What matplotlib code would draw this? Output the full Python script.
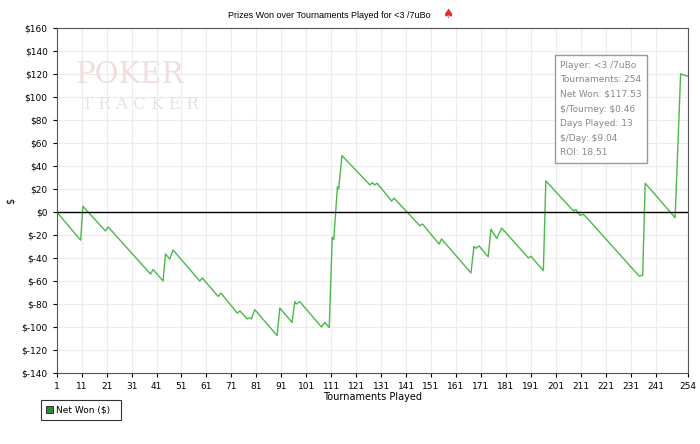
import matplotlib.pyplot as plt
from matplotlib.patches import Rectangle

# vertices of the net won curve (tournament, $)
tourney = [1, 10.6, 11.5, 20.5, 21.6, 38.6, 39.6, 43.6, 44.6, 46.3, 47.6, 58.3, 59.4, 65.7, 66.8,
           73.4, 74.4, 77.3, 78.4, 79, 80.4, 89.3, 90.4, 95.3, 96.4, 97, 98.4, 107.1, 108.4, 110.2,
           111.4, 112, 113.5, 114, 115.3, 126.5, 127.5, 128.5, 129.4, 135.2, 136.2, 146.5, 147.6,
           154.2, 155.2, 167, 168.2, 169, 170.2, 173.9, 175, 177.3, 179.3, 190, 191, 196, 197,
           208, 209, 210.7, 212, 213.4, 234.5, 235.8, 236.8, 248.8, 251, 252.5, 254]
net_won = [0, -24.5, 5, -16.5, -13, -54, -50, -60, -36.5, -41, -33, -60, -57.5, -73.5, -70.5,
           -88, -86, -93, -92, -93, -85, -107.5, -83.5, -96, -78, -80, -78, -100, -96, -100.5,
           -22, -24, 22, 20, 49, 23.5, 25.5, 23.5, 25, 9.5, 12, -12, -10.5,
           -28, -23.5, -53, -30, -31.5, -29.5, -39, -15, -23, -14, -40, -38.5, -51, 27,
           1, 2, -3, -2, -5, -56, -55, 25, -5, 120, 119, 118]

xticks = [1, 11, 21, 31, 41, 51, 61, 71, 81, 91, 101, 111, 121, 131, 141, 151, 161, 171, 181,
          191, 201, 211, 221, 231, 241, 254]
yticks = list(range(-140, 161, 20))
info = ["Player: <3 /7uBo", "Tournaments: 254", "Net Won: $117.53", "$/Tourney: $0.46",
        "Days Played: 13", "$/Day: $9.04", "ROI: 18.51"]

fig = plt.figure(figsize=(7, 4.44), dpi=100)
ax = fig.add_axes([0.081, 0.16, 0.902, 0.777])

ax.plot(tourney, net_won, color='#4cb84c', lw=1)
ax.axhline(0, color='black', lw=1)
ax.set_xlim(1, 254)
ax.set_ylim(-140, 160)
ax.set_xticks(xticks)
ax.set_yticks(yticks)
ax.set_yticklabels([f"${v}" if v >= 0 else f"$-{abs(v)}" for v in yticks])
ax.tick_params(labelsize=6.5, length=3)
ax.grid(color='#ececec', lw=0.8)
ax.set_axisbelow(True)
for s in ax.spines.values():
    s.set_color('#555555')
ax.set_xlabel('Tournaments Played', fontsize=7, labelpad=1)
ax.set_ylabel('$', fontsize=7)
fig.text(0.615, 0.966, 'Prizes Won over Tournaments Played for <3 /7uBo', fontsize=6.5,
         family='Liberation Sans', ha='right', va='center')
fig.text(0.64, 0.968, '\u2660', fontsize=9, color='#e03030', ha='center', va='center')

# watermark
ax.text(0.03, 0.84, 'POKER', transform=ax.transAxes, fontsize=21, color='#f0dede',
        family='DejaVu Serif')
ax.text(0.04, 0.765, 'T R A C K E R', transform=ax.transAxes, fontsize=12, color='#e2e6e2',
        family='DejaVu Serif')

# info box
ax.text(0.797, 0.905, "\n".join(info), transform=ax.transAxes, fontsize=6.5, color='#888888',
        va='top', linespacing=1.8, parse_math=False,
        bbox=dict(boxstyle='square,pad=0.6', fc='white', ec='#999999'))

# legend box
fig.patches.append(Rectangle((0.058, 0.055), 0.115, 0.045, transform=fig.transFigure,
                             fc='white', ec='#333333', lw=0.8))
fig.patches.append(Rectangle((0.066, 0.07), 0.009, 0.015, transform=fig.transFigure,
                             fc='#2e8b2e', ec='black', lw=0.5))
fig.text(0.08, 0.077, 'Net Won ($)', fontsize=6.5, va='center', parse_math=False)

fig.savefig('out.png', dpi=100)
